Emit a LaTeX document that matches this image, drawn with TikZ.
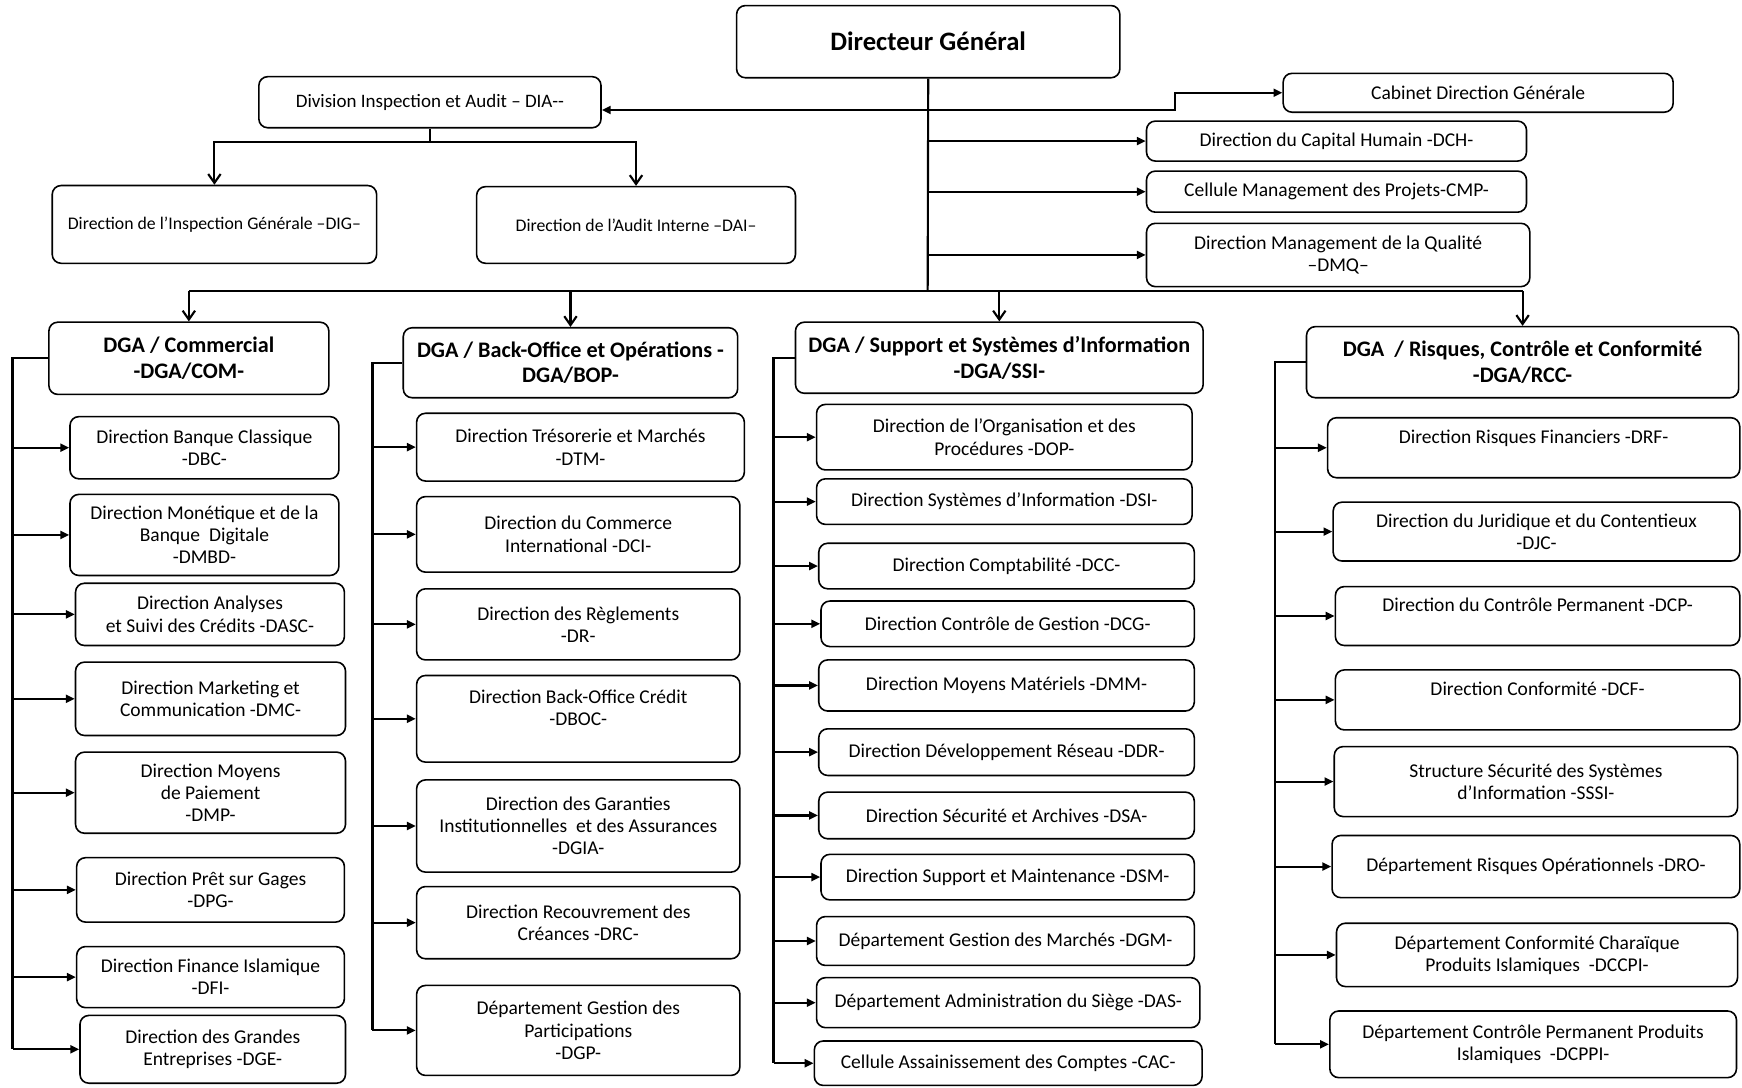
\documentclass[tikz,border=0pt]{standalone}
\usepackage{fontspec}
\setmainfont{Carlito}
\usepackage{tikz}
\usetikzlibrary{arrows.meta}

\begin{document}
\begin{tikzpicture}[
	x=0.022cm, y=-0.022cm,
	span/.style args={#1/#2/#3/#4}{at={({(#1+#3)/2},{(#2+#4)/2})}, minimum width={(#3-#1)*0.022cm}, minimum height={(#4-#2)*0.022cm}},
	box/.style={draw, rounded corners=5pt, align=center, inner sep=0pt, line width=0.9pt, font=\fontsize{11}{12.5}\selectfont},
	head/.style={box, font=\fontsize{12.5}{14.5}\selectfont\bfseries},
	link/.style={line width=1.2pt},
	arr/.style={link, -{Triangle[length=5pt,width=4.5pt]}},
	down/.style={link, -{Straight Barb[length=5pt,width=7pt]}}
]
\useasboundingbox (0,0) rectangle (1568,979);

% top level
\node[box, span=663/5/1008/70, font=\fontsize{15}{17}\selectfont\bfseries] (dg) {Directeur Général};
\node[box, span=233/69/541/115, font=\fontsize{10.7}{12.5}\selectfont] (dia) {Division Inspection et Audit – DIA-{}-};
\node[box, span=47/167/339/237, font=\fontsize{10}{12}\selectfont] (dig) {Direction de l’Inspection Générale –DIG–};
\node[box, span=429/168/716/237, font=\fontsize{10}{12}\selectfont] (dai) {Direction de l’Audit Interne –DAI–};
\node[box, span=1155/66/1506/101] (cab) {Cabinet Direction Générale};
\node[box, span=1032/109/1374/145] (dch) {Direction du Capital Humain -DCH-};
\node[box, span=1032/154/1374/191] (cmp) {Cellule Management des Projets-CMP-};
\node[box, span=1032/201/1377/258] (dmq) {Direction Management de la Qualité\\–DMQ–};

% DGA / COM
\node[head, span=44/290/296/355] (com) {DGA / Commercial\\-DGA/COM-};
\node[box, span=63/375/305/431] (dbc) {Direction Banque Classique\\-DBC-};
\node[box, span=63/445/305/518] (dmbd) {Direction Monétique et de la\\Banque\ \ Digitale\\-DMBD-};
\node[box, span=68/525/310/581] (dasc) {Direction Analyses\\et Suivi des Crédits -DASC-};
\node[box, span=68/596/311/662] (dmc) {Direction Marketing et\\Communication -DMC-};
\node[box, span=68/677/311/750] (dmp) {Direction Moyens\\de Paiement\\-DMP-};
\node[box, span=69/772/310/830] (dpg) {Direction Prêt sur Gages\\-DPG-};
\node[box, span=69/852/310/907] (dfi) {Direction Finance Islamique\\-DFI-};
\node[box, span=72/914/311/975] (dge) {Direction des Grandes\\Entreprises -DGE-};

% DGA / BOP
\node[head, span=363/295/664/358] (bop) {DGA / Back-Office et Opérations -\\DGA/BOP-};
\node[box, span=375/372/670/433] (dtm) {Direction Trésorerie et Marchés\\-DTM-};
\node[box, span=375/447/666/515] (dci) {Direction du Commerce\\International -DCI-};
\node[box, span=375/530/666/594] (dr) {Direction des Règlements\\-DR-};
\node[box, span=375/608/666/686] (dboc) {Direction Back-Office Crédit\\-DBOC-\\\mbox{}};
\node[box, span=375/702/666/785] (dgia) {Direction des Garanties\\Institutionnelles\ \ et des Assurances\\-DGIA-};
\node[box, span=375/798/666/863] (drc) {Direction Recouvrement des\\Créances -DRC-};
\node[box, span=375/887/666/968] (dgp) {Département Gestion des\\Participations\\-DGP-};

% DGA / SSI
\node[head, span=716/290/1083/354] (ssi) {DGA / Support et Systèmes d’Information\\-DGA/SSI-};
\node[box, span=735/364/1073/423] (dop) {Direction de l’Organisation et des\\Procédures -DOP-};
\node[box, span=735/431/1073/472] (dsi) {Direction Systèmes d’Information -DSI-};
\node[box, span=737/489/1075/530] (dcc) {Direction Comptabilité -DCC-};
\node[box, span=739/541/1075/582] (dcg) {Direction Contrôle de Gestion -DCG-};
\node[box, span=737/594/1075/640] (dmm) {Direction Moyens Matériels -DMM-};
\node[box, span=737/656/1075/698] (ddr) {Direction Développement Réseau -DDR-};
\node[box, span=737/713/1075/755] (dsa) {Direction Sécurité et Archives -DSA-};
\node[box, span=739/769/1075/810] (dsm) {Direction Support et Maintenance -DSM-};
\node[box, span=735/825/1075/869] (dgm) {Département Gestion des Marchés -DGM-};
\node[box, span=735/880/1080/925] (das) {Département Administration du Siège -DAS-};
\node[box, span=733/937/1082/977] (cac) {Cellule Assainissement des Comptes -CAC-};

% DGA / RCC
\node[head, span=1176/294/1565/358] (rcc) {DGA\ \ / Risques, Contrôle et Conformité\\-DGA/RCC-};
\node[box, span=1195/376/1566/430] (drf) {Direction Risques Financiers -DRF-\\\mbox{}};
\node[box, span=1200/452/1566/505] (djc) {Direction du Juridique et du Contentieux\\-DJC-};
\node[box, span=1202/528/1566/581] (dcp) {Direction du Contrôle Permanent -DCP-\\\mbox{}};
\node[box, span=1202/603/1566/657] (dcf) {Direction Conformité -DCF-\\\mbox{}};
\node[box, span=1201/672/1564/735] (sssi) {Structure Sécurité des Systèmes\\d’Information -SSSI-};
\node[box, span=1199/752/1566/808] (dro) {Département Risques Opérationnels -DRO-};
\node[box, span=1203/831/1564/888] (dccpi) {Département Conformité Charaïque\\Produits Islamiques\ \ -DCCPI-};
\node[box, span=1197/910/1563/970] (dcppi) {Département Contrôle Permanent Produits\\Islamiques\ \ -DCPPI-};

% trunk and buses
\coordinate (hub) at (835,262);
\coordinate (j) at (835,99);
\draw[link] (dg.south) -- (hub);
\draw[arr] (j) -- (j -| dia.east);
\draw[arr] (j) -- ++(223,0) |- (cab.west);
\draw[arr] (dg.south |- dch.west) -- (dch.west);
\draw[arr] (dg.south |- cmp.west) -- (cmp.west);
\draw[arr] (dg.south |- dmq.west) -- (dmq.west);

\draw[link] (dia.south) -- ++(0,12) coordinate (d);
\draw[down] (d) -| (dig.north);
\draw[down] (d) -| (dai.north);

\draw[link] (com.north |- hub) -- (rcc.north |- hub);
\foreach \n in {com,bop,ssi,rcc}
	\draw[down] (\n.north |- hub) -- (\n.north);

\draw[link] (com.west) -- ++(-32,0) coordinate (b1) -- (b1 |- dge.west);
\foreach \n in {dbc,dmbd,dasc,dmc,dmp,dpg,dfi,dge}
	\draw[arr] (b1 |- \n.west) -- (\n.west);

\draw[link] (bop.west) -- ++(-27,0) coordinate (b2) -- (b2 |- dgp.west);
\foreach \n in {dtm,dci,dr,dboc,dgia,drc,dgp}
	\draw[arr] (b2 |- \n.west) -- (\n.west);

\draw[link] (ssi.west) -- ++(-19,0) coordinate (b3) -- (b3 |- cac.west);
\foreach \n in {dop,dsi,dcc,dcg,dmm,ddr,dsa,dsm,dgm,das,cac}
	\draw[arr] (b3 |- \n.west) -- (\n.west);

\draw[link] (rcc.west) -- ++(-28,0) coordinate (b4) -- (b4 |- dcppi.west);
\foreach \n in {drf,djc,dcp,dcf,sssi,dro,dccpi,dcppi}
	\draw[arr] (b4 |- \n.west) -- (\n.west);

\end{tikzpicture}
\end{document}
